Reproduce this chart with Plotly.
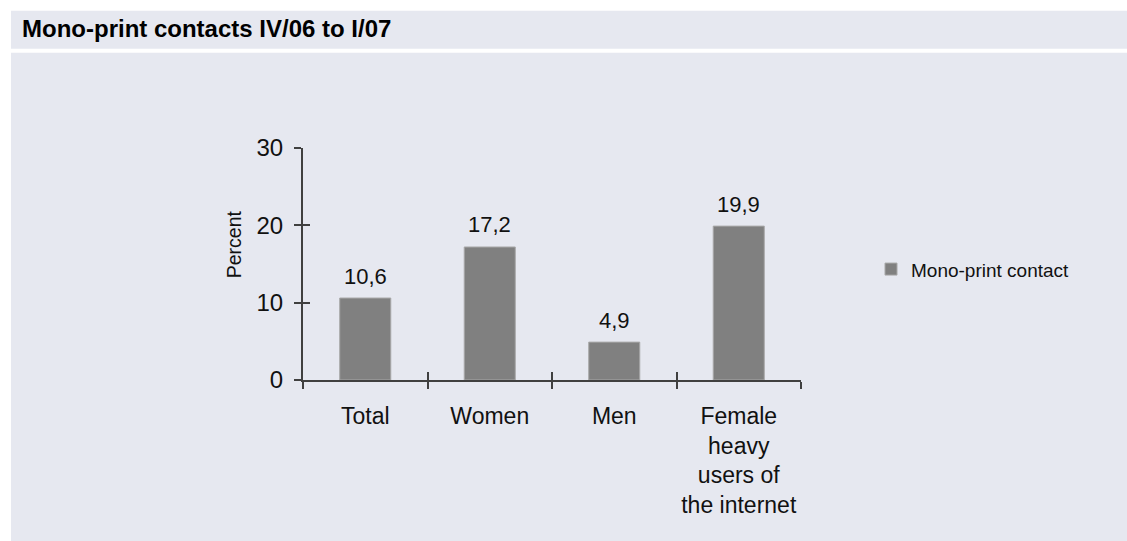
import plotly.graph_objects as go

categories = ["Total", "Women", "Men", "Female<br>heavy<br>users of<br>the internet"]
values = [10.6, 17.2, 4.9, 19.9]
value_labels = ["10,6", "17,2", "4,9", "19,9"]
series_name = "Mono-print contact"
title_text = "Mono-print contacts IV/06 to I/07"
y_title = "Percent"
y_ticks = [0, 10, 20, 30]

BAND = "rgb(230,232,240)"
AXIS = "#404040"
FONT = "Liberation Sans, Arial, sans-serif"

W, H = 1127, 541
L, R, T, B = 303, 326, 147.5, 161
pw = W - L - R
ph = H - T - B

def px_x(p):
    return (p - L) / pw

def px_y(p):
    return (H - B - p) / ph

fig = go.Figure()
fig.add_trace(go.Bar(
    x=categories, y=values, name=series_name,
    marker=dict(color="#808080", line=dict(color="#a8a8a8", width=1)),
    showlegend=True, hoverinfo="x+y",
))
# empty helper trace so that the overlay axes (inner tick halves) are drawn
fig.add_trace(go.Scatter(x=[], y=[], xaxis="x2", yaxis="y2", showlegend=False,
                         hoverinfo="skip"))

annotations = [
    dict(x=c, y=v, xref="x", yref="y", text=t, showarrow=False,
         yanchor="middle", yshift=22,
         font=dict(family=FONT, size=22, color="#111111"))
    for c, v, t in zip(categories, values, value_labels)
]
annotations.append(dict(
    x=px_x(234), y=px_y(244), xref="paper", yref="paper", text=y_title,
    textangle=-90, showarrow=False, xanchor="center", yanchor="middle",
    font=dict(family=FONT, size=19.5, color="#111111")))

shapes = [
    dict(type="rect", xref="paper", yref="paper", layer="below",
         x0=px_x(11), x1=px_x(W + 5), y0=px_y(48), y1=px_y(10),
         fillcolor=BAND, line=dict(width=0)),
    dict(type="rect", xref="paper", yref="paper", layer="below",
         x0=px_x(11), x1=px_x(W + 5), y0=px_y(H + 5), y1=px_y(52),
         fillcolor=BAND, line=dict(width=0)),
]

n = len(categories)
fig.update_layout(
    width=W, height=H,
    margin=dict(l=L, r=R, t=T, b=B, pad=0, autoexpand=False),
    paper_bgcolor="white", plot_bgcolor="rgba(0,0,0,0)",
    shapes=shapes, annotations=annotations,
    bargap=0.59,
    font=dict(family=FONT, color="#111111"),
    title=dict(text="<b>" + title_text + "</b>", x=22 / W, xanchor="left",
               y=1 - 29 / H, yanchor="middle", xref="container", yref="container",
               automargin=False,
               font=dict(family=FONT, size=24, color="#000000")),
    xaxis=dict(type="category", showline=True, linecolor=AXIS, linewidth=2,
               ticks="outside", tickson="boundaries", ticklen=7, tickwidth=1.5, tickcolor=AXIS,
               tickfont=dict(family=FONT, size=23, color="#111111"),
               tickangle=0, automargin=False, ticklabelstandoff=14,
               showgrid=False, zeroline=False, fixedrange=True),
    yaxis=dict(range=[0, 30], tickvals=y_ticks, showline=True, linecolor=AXIS, linewidth=2,
               ticks="outside", ticklen=7, tickwidth=1.5, tickcolor=AXIS,
               tickfont=dict(family=FONT, size=24, color="#111111"),
               ticklabelstandoff=6, automargin=False,
               showgrid=False, zeroline=False, fixedrange=True),
    xaxis2=dict(overlaying="x", anchor="y", range=[-0.5, n - 0.5],
                tickvals=[i + 0.5 for i in range(n)], ticks="inside", ticklen=8,
                tickwidth=1.5, tickcolor=AXIS, showticklabels=False, showgrid=False,
                zeroline=False, showline=False, fixedrange=True, automargin=False),
    yaxis2=dict(overlaying="y", anchor="x", range=[0, 30], tickvals=y_ticks,
                ticks="inside", ticklen=7, tickwidth=1.5, tickcolor=AXIS,
                showticklabels=False, showgrid=False, zeroline=False, showline=False,
                fixedrange=True, automargin=False),
    legend=dict(x=px_x(871), y=px_y(269), xanchor="left", yanchor="middle",
                bgcolor="rgba(0,0,0,0)", font=dict(family=FONT, size=19, color="#111111")),
)

fig.write_html("out.html")
